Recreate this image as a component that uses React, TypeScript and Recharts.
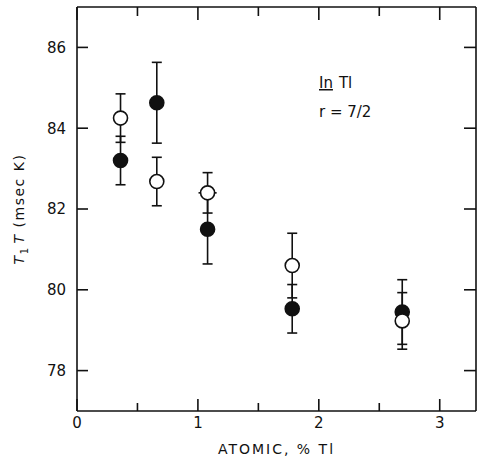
import React from 'react';
import { ScatterChart, Scatter, XAxis, YAxis, ErrorBar } from 'recharts';

// Concentration of Tl (atomic %) and T1*T values (msec K)
const concentration = [0.36, 0.66, 1.08, 1.78, 2.69];
const filledT1T = [83.2, 84.63, 81.5, 79.53, 79.45];
const filledErr = [0.6, 1.0, 0.86, 0.6, 0.8];
const openT1T = [84.25, 82.68, 82.4, 80.6, 79.23];
const openErr = [0.6, 0.6, 0.5, 0.8, 0.7];
const openXErr = [0, 0, 0.075, 0, 0];

const xTicks = [0, 0.5, 1, 1.5, 2, 2.5, 3];
const xMajor = [0, 1, 2, 3];
const yTicks = [78, 80, 82, 84, 86];

const FONT = '"DejaVu Sans", sans-serif';

const filledData = concentration.map((x, i) => ({ x, y: filledT1T[i], err: filledErr[i] }));
const openData = concentration.map((x, i) => ({ x, y: openT1T[i], err: openErr[i], xerr: openXErr[i] }));

const Dot = ({ cx, cy, filled }: any) => (
  <circle cx={cx} cy={cy} r={7} fill={filled ? '#111' : '#fff'} stroke="#111" strokeWidth={1.6} />
);

// ticks point into the plot, labels sit outside
const LeftTick = ({ x, y, payload }: any) => (
  <g>
    <line x1={x} y1={y} x2={x + 11} y2={y} stroke="#111" strokeWidth={1.6} />
    <text x={x - 11} y={y} dy="0.36em" textAnchor="end" fontFamily={FONT} fontSize={15} fill="#111">
      {payload.value}
    </text>
  </g>
);

const RightTick = ({ x, y }: any) => (
  <line x1={x} y1={y} x2={x - 12} y2={y} stroke="#111" strokeWidth={1.6} />
);

const BottomTick = ({ x, y, payload }: any) => {
  const major = xMajor.includes(payload.value);
  return (
    <g>
      <line x1={x} y1={y} x2={x} y2={y - (major ? 12 : 8)} stroke="#111" strokeWidth={1.6} />
      {major && (
        <text x={x} y={y + 17} textAnchor="middle" fontFamily={FONT} fontSize={15} fill="#111">
          {payload.value}
        </text>
      )}
    </g>
  );
};

const TopTick = ({ x, y, payload }: any) => {
  const major = xMajor.includes(payload.value);
  return <line x1={x} y1={y} x2={x} y2={y + (major ? 13 : 9)} stroke="#111" strokeWidth={1.6} />;
};

const YTitle = ({ viewBox }: any) => {
  const cx = viewBox.x + 24;
  const cy = viewBox.y + viewBox.height / 2;
  return (
    <text
      x={cx}
      y={cy}
      transform={`rotate(-90, ${cx}, ${cy})`}
      textAnchor="middle"
      fontFamily={FONT}
      fontSize={14}
      letterSpacing={1.5}
      fill="#111"
    >
      <tspan fontStyle="italic">T</tspan>
      <tspan fontSize={10} dy={4}>1</tspan>
      <tspan fontStyle="italic" dy={-4} dx={3}>T</tspan>
      <tspan dx={6}>(msec  K)</tspan>
    </text>
  );
};

const XTitle = ({ viewBox }: any) => (
  <text
    x={viewBox.x + viewBox.width / 2}
    y={viewBox.y + 43}
    textAnchor="middle"
    fontFamily={FONT}
    fontSize={14}
    letterSpacing={2}
    fill="#111"
  >
    ATOMIC, % Tl
  </text>
);

export default function App() {
  return (
    <div style={{ position: 'absolute', left: 0, top: 0, width: 478, height: 460, background: '#fff' }}>
      <ScatterChart width={478} height={460} margin={{ top: 6, right: 1, left: 0, bottom: 0 }}>
        <XAxis
          xAxisId="bottom"
          type="number"
          dataKey="x"
          domain={[0, 3.3]}
          ticks={xTicks}
          interval={0}
          height={49}
          tickSize={0}
          tickMargin={0}
          tickLine={false}
          tick={<BottomTick />}
          axisLine={{ stroke: '#111', strokeWidth: 1.6 }}
          allowDataOverflow
          label={<XTitle />}
        />
        <XAxis
          xAxisId="top"
          orientation="top"
          type="number"
          dataKey="x"
          domain={[0, 3.3]}
          ticks={xTicks}
          interval={0}
          height={1}
          tickSize={0}
          tickMargin={0}
          tickLine={false}
          tick={<TopTick />}
          axisLine={{ stroke: '#111', strokeWidth: 1.6 }}
          allowDataOverflow
        />
        <YAxis
          yAxisId="left"
          type="number"
          dataKey="y"
          domain={[77, 87]}
          ticks={yTicks}
          interval={0}
          width={77}
          tickSize={0}
          tickMargin={0}
          tickLine={false}
          tick={<LeftTick />}
          axisLine={{ stroke: '#111', strokeWidth: 1.6 }}
          allowDataOverflow
          label={<YTitle />}
        />
        <YAxis
          yAxisId="right"
          orientation="right"
          type="number"
          dataKey="y"
          domain={[77, 87]}
          ticks={yTicks}
          interval={0}
          width={1}
          tickSize={0}
          tickMargin={0}
          tickLine={false}
          tick={<RightTick />}
          axisLine={{ stroke: '#111', strokeWidth: 1.6 }}
          allowDataOverflow
        />
        {/* invisible series so the top and right frame axes get drawn */}
        <Scatter
          xAxisId="top"
          yAxisId="right"
          data={filledData}
          isAnimationActive={false}
          shape={() => <g />}
        />
        <Scatter
          xAxisId="bottom"
          yAxisId="left"
          data={filledData}
          isAnimationActive={false}
          shape={(p: any) => <Dot {...p} filled />}
        >
          <ErrorBar dataKey="err" direction="y" width={5} stroke="#111" strokeWidth={1.6} />
        </Scatter>
        <Scatter
          xAxisId="bottom"
          yAxisId="left"
          data={openData}
          isAnimationActive={false}
          shape={(p: any) => <Dot {...p} />}
        >
          <ErrorBar dataKey="err" direction="y" width={5} stroke="#111" strokeWidth={1.6} />
          <ErrorBar dataKey="xerr" direction="x" width={0} stroke="#111" strokeWidth={1.6} />
        </Scatter>
      </ScatterChart>
      <svg width={478} height={460} style={{ position: 'absolute', left: 0, top: 0, pointerEvents: 'none' }}>
        <text x={319} y={88} fontFamily={FONT} fontSize={15} fill="#111">
          <tspan textDecoration="underline">In</tspan>
          <tspan dx={6}>Tl</tspan>
        </text>
        <text x={319} y={117} fontFamily={FONT} fontSize={15} fill="#111">
          r = 7/2
        </text>
      </svg>
    </div>
  );
}
